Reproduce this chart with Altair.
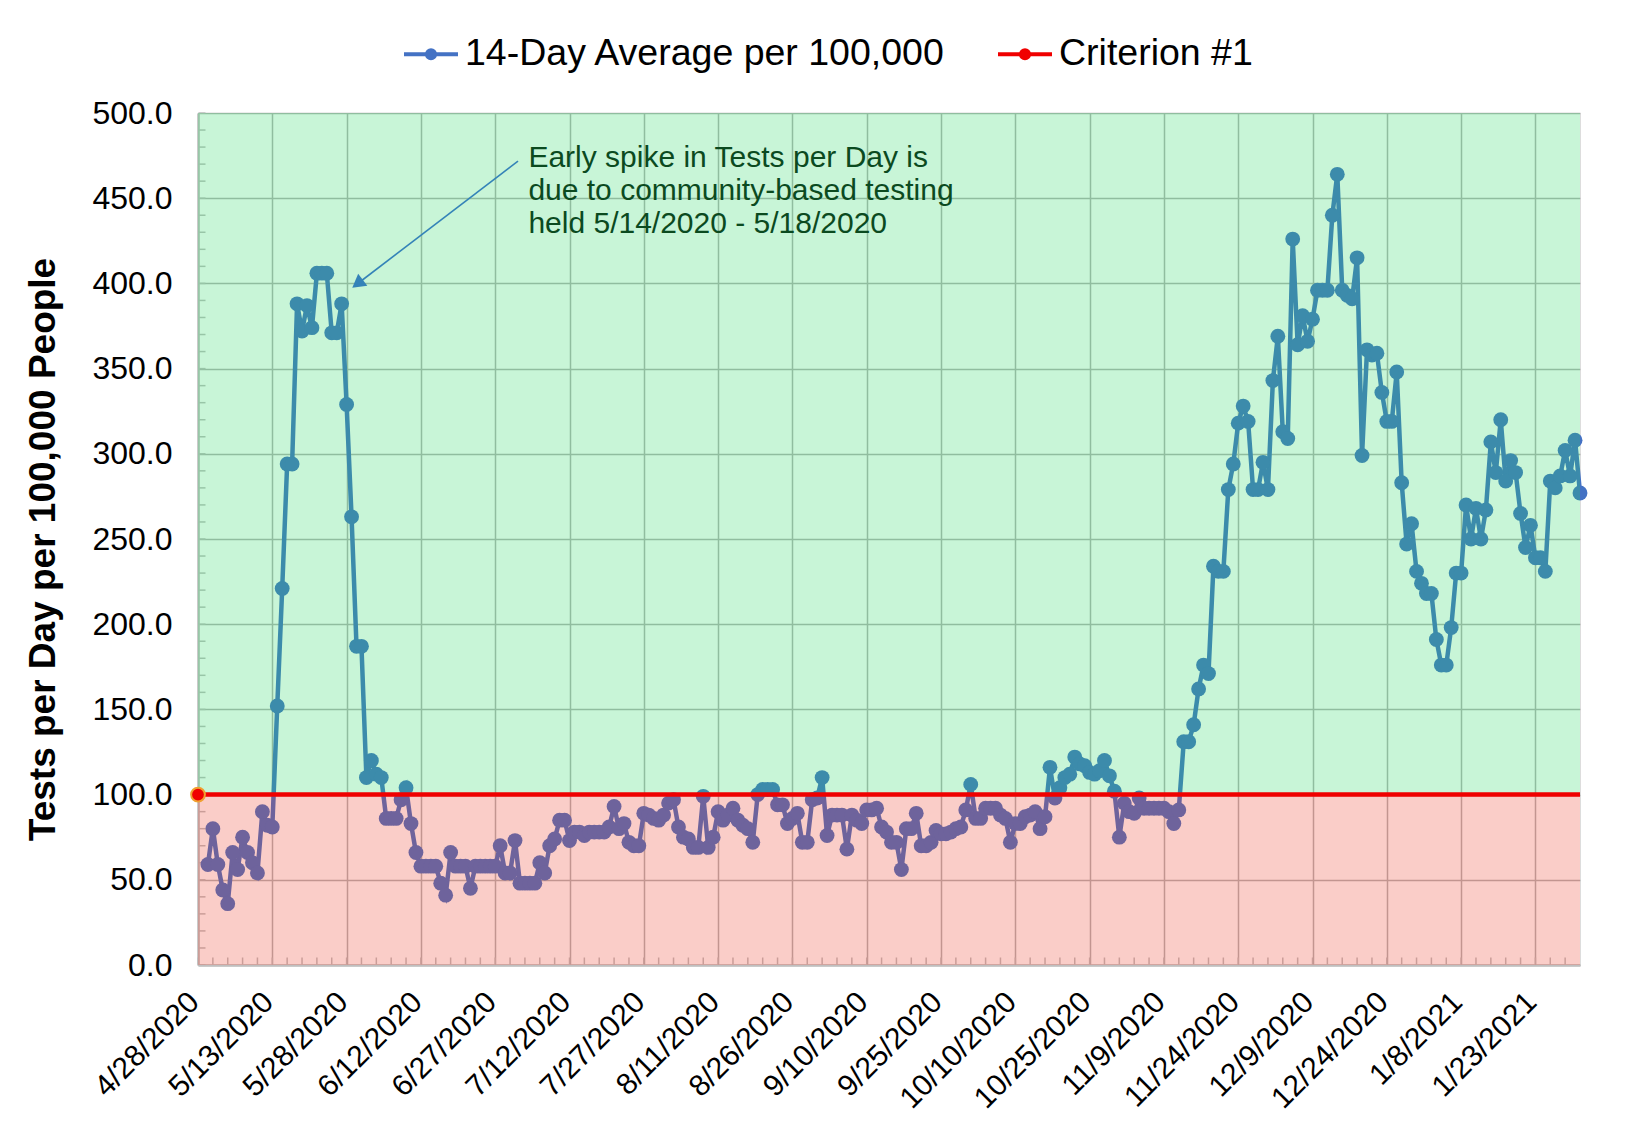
import json
import altair as alt
import pandas as pd

# ---------------- data ----------------
series_name = "14-Day Average per 100,000"
criterion_name = "Criterion #1"
criterion_value = 100
first_date = "2020-04-30"
axis_start = "2020-04-28"
axis_end = "2021-02-01"

values = [
    59, 80, 59, 44, 36, 66, 56, 75, 66, 60,
    54, 90, 82, 81, 152, 221, 294, 294, 388, 372,
    387, 374, 406, 406, 406, 371, 371, 388, 329, 263,
    187, 187, 110, 120, 112, 110, 86, 86, 86, 97,
    104, 83, 66, 58, 58, 58, 58, 48, 41, 66,
    58, 58, 58, 45, 58, 58, 58, 58, 58, 70,
    54, 54, 73, 48, 48, 48, 48, 60, 54, 70,
    74, 85, 85, 73, 78, 78, 76, 78, 78, 78,
    78, 81, 93, 80, 83, 72, 70, 70, 89, 88,
    86, 85, 88, 95, 97, 81, 75, 74, 69, 69,
    99, 69, 75, 90, 85, 88, 92, 85, 82, 80,
    72, 100, 103, 103, 103, 94, 94, 83, 86, 89,
    72, 72, 97, 98, 110, 76, 88, 88, 88, 68,
    88, 85, 83, 91, 91, 92, 81, 78, 72, 72,
    56, 80, 80, 89, 70, 70, 72, 79, 77, 77,
    78, 80, 81, 91, 106, 86, 86, 92, 92, 92,
    88, 86, 72, 83, 83, 87, 88, 90, 80, 87,
    116, 98, 104, 110, 112, 122, 118, 117, 113, 112,
    114, 120, 111, 102, 75, 95, 90, 89, 98, 92,
    92, 92, 92, 92, 90, 83, 91, 131, 131, 141,
    162, 176, 171, 234, 231, 231, 279, 294, 318, 328,
    319, 279, 279, 295, 279, 343, 369, 313, 309, 426,
    364, 381, 366, 379, 396, 396, 396, 440, 464, 396,
    393, 391, 415, 299, 361, 358, 359, 336, 319, 319,
    348, 283, 247, 259, 231, 224, 218, 218, 191, 176,
    176, 198, 230, 230, 270, 250, 268, 250, 267, 307,
    289, 320, 284, 296, 289, 265, 245, 258, 239, 239,
    231, 284, 280, 287, 302, 287, 308, 277,
]

tick_labels = [
    "4/28/2020", "5/13/2020", "5/28/2020", "6/12/2020", "6/27/2020",
    "7/12/2020", "7/27/2020", "8/11/2020", "8/26/2020", "9/10/2020",
    "9/25/2020", "10/10/2020", "10/25/2020", "11/9/2020", "11/24/2020",
    "12/9/2020", "12/24/2020", "1/8/2021", "1/23/2021",
]
y_ticks = [0, 50, 100, 150, 200, 250, 300, 350, 400, 450, 500]
y_minor_step = 10
x_minor_step = 3

annotation_lines = [
    "Early spike in Tests per Day is",
    "due to community-based testing",
    "held 5/14/2020 - 5/18/2020",
]

# ---------------- build tables ----------------
origin = pd.Timestamp(axis_start)
dates = pd.date_range(first_date, periods=len(values), freq="D")
days = [(d - origin).days for d in dates]
x_max = (pd.Timestamp(axis_end) - origin).days
tick_days = [(pd.to_datetime(t, format="%m/%d/%Y") - origin).days for t in tick_labels]

df = pd.DataFrame({"day": days, "value": values, "series": series_name})
crit_df = pd.DataFrame({"day": [0, x_max], "value": [criterion_value] * 2,
                        "series": criterion_name})
crit_marker = crit_df.iloc[[0]]

green_df = pd.DataFrame({"day": [0], "day_end": [x_max],
                         "value": [criterion_value], "value_end": [y_ticks[-1]]})
red_df = pd.DataFrame({"day": [0], "day_end": [x_max],
                       "value": [0], "value_end": [criterion_value]})

y_minor_df = pd.DataFrame({"value": list(range(0, y_ticks[-1] + 1, y_minor_step))})
x_minor_df = pd.DataFrame({"day": list(range(0, x_max, x_minor_step))})

# annotation placement (data coordinates)
arrow_df = pd.DataFrame({"day": [64.6], "value": [471.8], "day_end": [32.2], "value_end": [399.8]})
head_df = pd.DataFrame({"day": [32.2], "value": [399.8]})
text_df = pd.DataFrame({"day": [66.7], "value": [482.5], "text": ["\n".join(annotation_lines)]})

BLUE = "#4472C4"
RED = "#F00000"
FONT = "Liberation Sans"
AXIS_GREY = "#BFBFBF"

label_expr = f"{json.dumps(tick_labels)}[indexof({json.dumps(tick_days)}, datum.value)]"

x_enc = alt.X(
    "day:Q",
    scale=alt.Scale(domain=[0, x_max], nice=False, zero=False),
    axis=alt.Axis(
        values=tick_days, labelExpr=label_expr, title=None,
        labelAngle=315, labelAlign="right", labelBaseline="middle",
        labelFontSize=30, labelPadding=32, labelOffset=-4,
        labelColor="#000000", labelFont=FONT,
        grid=True, gridColor="#B4B4B4", gridWidth=1.5,
        domainColor=AXIS_GREY, domainWidth=2.5, ticks=False, labelOverlap=False,
    ),
)
y_enc = alt.Y(
    "value:Q",
    scale=alt.Scale(domain=[0, 500], nice=False),
    axis=alt.Axis(
        values=y_ticks, format=".1f", title="Tests per Day per 100,000 People",
        titleFontSize=37, titleFontWeight="bold", titleFont=FONT, titleColor="#000000",
        titlePadding=29, titleY=436,
        labelFontSize=32, labelPadding=26, labelColor="#000000", labelFont=FONT,
        grid=True, gridColor="#B4B4B4", gridWidth=1.5,
        domainColor=AXIS_GREY, domainWidth=2.5, ticks=False,
    ),
)

legend_symbol = (
    "M-1,0L1,0"
    "M-0.15,0A0.15,0.15,0,1,0,0.15,0A0.15,0.15,0,1,0,-0.15,0"
    "M-0.05,0A0.05,0.05,0,1,0,0.05,0A0.05,0.05,0,1,0,-0.05,0"
)

color_enc = alt.Color(
    "series:N",
    scale=alt.Scale(domain=[series_name, criterion_name], range=[BLUE, RED]),
    legend=alt.Legend(
        title=None, orient="none", direction="horizontal",
        legendX=204, legendY=-88, padding=0,
        symbolType=legend_symbol, symbolSize=2916, symbolStrokeWidth=4,
        symbolOpacity=1, labelFontSize=37.5, labelFont=FONT, labelColor="#000000",
        labelOffset=5, columnPadding=44, labelLimit=1000,
    ),
)

line = alt.Chart(df).mark_line(strokeWidth=4.5).encode(x=x_enc, y=y_enc, color=color_enc)
points = alt.Chart(df).mark_circle(size=220, color=BLUE, opacity=1).encode(x=x_enc, y=y_enc)

green = alt.Chart(green_df).mark_rect(color="#23D75F", opacity=0.25).encode(
    x=x_enc, x2="day_end:Q", y=y_enc, y2="value_end:Q")
red = alt.Chart(red_df).mark_rect(color="#EB3723", opacity=0.25).encode(
    x=x_enc, x2="day_end:Q", y=y_enc, y2="value_end:Q")

# small inside minor ticks along the axes
y_minor = alt.Chart(y_minor_df).mark_tick(
    orient="horizontal", size=7, thickness=1.5, color=AXIS_GREY, opacity=1
).encode(y=y_enc, x=alt.value(4))
x_minor = alt.Chart(x_minor_df).mark_tick(
    orient="vertical", size=7, thickness=1.5, color=AXIS_GREY, opacity=1
).encode(x=x_enc, y=alt.value(848))

crit_line = alt.Chart(crit_df).mark_line(strokeWidth=4.5).encode(x=x_enc, y=y_enc, color=color_enc)
crit_point = alt.Chart(crit_marker).mark_circle(
    size=190, color=RED, opacity=1, stroke="#F0A030", strokeWidth=2
).encode(x=x_enc, y=y_enc)

arrow = alt.Chart(arrow_df).mark_rule(color="#3483B8", strokeWidth=1.6).encode(
    x=x_enc, y=y_enc, x2="day_end:Q", y2="value_end:Q")
head = alt.Chart(head_df).mark_point(
    shape="triangle-up", filled=True, color="#3483B8", opacity=1, size=230, angle=233
).encode(x=x_enc, y=y_enc)
note = alt.Chart(text_df).mark_text(
    align="left", baseline="top", fontSize=30, font=FONT, color="#0B4A1F",
    lineBreak="\n", lineHeight=33
).encode(x=x_enc, y=y_enc, text="text:N")

chart = alt.layer(
    y_minor, x_minor, line, points, green, red, crit_line, crit_point, arrow, head, note
).properties(
    width=1382, height=852,
    autosize=alt.AutoSizeParams(type="none"),
    padding={"left": 190, "top": 105, "right": 30, "bottom": 150},
).configure_view(stroke=None).configure(font=FONT)

chart.save("out.html", embed_options={"renderer": "svg", "actions": False})
